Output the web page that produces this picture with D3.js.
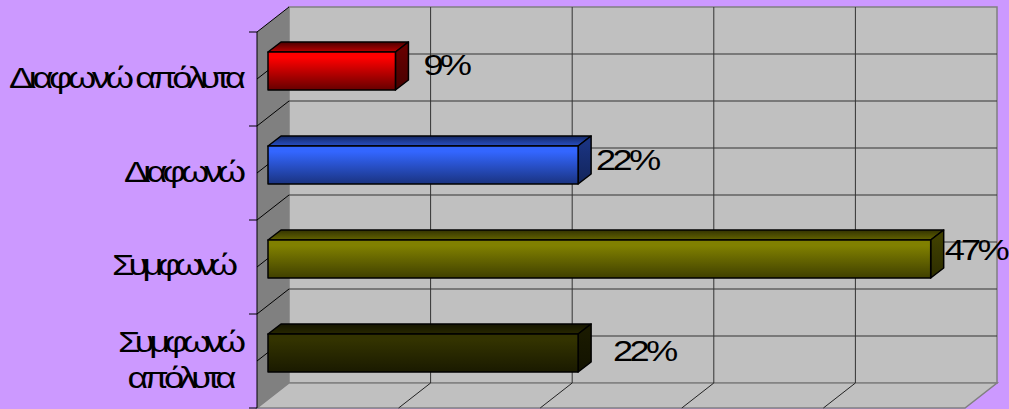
<!DOCTYPE html>
<html>
<head>
<meta charset="utf-8">
<script src="https://cdn.jsdelivr.net/npm/d3@7"></script>
<style>
  html, body { margin: 0; padding: 0; background: #cc99ff; overflow: hidden; }
  text { font-family: "Liberation Sans", Arial, sans-serif; fill: #000; }
</style>
</head>
<body>
<div id="chart"></div>
<script>
// data, top bar first
const categories = ["Διαφωνώ απόλυτα", "Διαφωνώ", "Συμφωνώ", "Συμφωνώ απόλυτα"];
const categoryLines = [["Διαφωνώ απόλυτα"], ["Διαφωνώ"], ["Συμφωνώ"], ["Συμφωνώ", "απόλυτα"]];
const values = [9, 21.9, 46.8, 21.9];
const valueLabels = ["9%", "22%", "47%", "22%"];
const xTicks = [0, 10, 20, 30, 40, 50];

const faceTop = ["#ff0000", "#3366ff", "#808000", "#333300"];
const faceBottom = ["#660000", "#1a3380", "#404000", "#1a1a00"];

const w = 1009, h = 409;
const depthX = 32, depthY = 25;           // how far the back wall sits from the front edge
const barDepthX = 13, barDepthY = 10;     // depth of the bars themselves
const barInsetX = 11, barInsetY = 8;      // bars start this far into the box
const barHeight = 38;
const stretch = 1.25;                     // the original text is drawn wide and tight

const x = d3.scaleLinear().domain([0, 50]).range([257, 965]);
const y = d3.scaleBand().domain(categories).range([32, 408]);

const svg = d3.select("#chart").append("svg")
  .attr("width", w)
  .attr("height", h)
  .style("display", "block");

const defs = svg.append("defs");
function gradient(id, top, bottom) {
  const g = defs.append("linearGradient").attr("id", id)
    .attr("x1", 0).attr("y1", 0).attr("x2", 0).attr("y2", 1);
  g.append("stop").attr("offset", "15%").attr("stop-color", top);
  g.append("stop").attr("offset", "100%").attr("stop-color", bottom);
}
categories.forEach((c, i) => {
  gradient("front" + i, faceTop[i], faceBottom[i]);
  gradient("top" + i, d3.rgb(faceBottom[i]).darker(0.3), d3.interpolateRgb(faceTop[i], faceBottom[i])(0.45));
  gradient("side" + i, d3.rgb(faceBottom[i]), d3.rgb(faceBottom[i]).darker(1));
});

const pts = a => a.map(p => p.join(",")).join(" ");
const x0 = x.range()[0], x1 = x.range()[1];
const y0 = y.range()[0], y1 = y.range()[1];

// walls and floor
svg.append("polygon")
  .attr("points", pts([[x0 + depthX, y0 - depthY], [x1 + depthX, y0 - depthY], [x1 + depthX, y1 - depthY], [x0 + depthX, y1 - depthY]]))
  .attr("fill", "#c0c0c0").attr("stroke", "#808080").attr("stroke-width", 1.5);
svg.append("polygon")
  .attr("points", pts([[x0, y1], [x1, y1], [x1 + depthX, y1 - depthY], [x0 + depthX, y1 - depthY]]))
  .attr("fill", "#c0c0c0").attr("stroke", "#808080").attr("stroke-width", 1.5);
svg.append("polygon")
  .attr("points", pts([[x0, y0], [x0 + depthX, y0 - depthY], [x0 + depthX, y1 - depthY], [x0, y1]]))
  .attr("fill", "#808080");

// gridlines: vertical on the wall, running forward on the floor
xTicks.slice(1, -1).forEach(t => {
  svg.append("line")
    .attr("x1", x(t) + depthX).attr("y1", y0 - depthY)
    .attr("x2", x(t) + depthX).attr("y2", y1 - depthY)
    .attr("stroke", "#333").attr("stroke-width", 1);
  svg.append("line")
    .attr("x1", x(t) + depthX).attr("y1", y1 - depthY)
    .attr("x2", x(t)).attr("y2", y1)
    .attr("stroke", "#222").attr("stroke-width", 1);
});

// horizontal gridlines at every band edge and band centre
const levels = [];
categories.forEach(c => levels.push(y(c), y(c) + y.bandwidth() / 2));
levels.push(y1);
levels.forEach((ly, i) => {
  if (i > 0 && i < levels.length - 1) {
    svg.append("line")
      .attr("x1", x0 + depthX).attr("y1", ly - depthY)
      .attr("x2", x1 + depthX).attr("y2", ly - depthY)
      .attr("stroke", "#333").attr("stroke-width", 1);
  }
  if (i < levels.length - 1) {
    svg.append("line")
      .attr("x1", x0).attr("y1", ly)
      .attr("x2", x0 + depthX).attr("y2", ly - depthY)
      .attr("stroke", "#000").attr("stroke-width", 1);
  }
  if (i % 2 == 0) {
    svg.append("line")
      .attr("x1", x0 - 8).attr("y1", ly)
      .attr("x2", x0).attr("y2", ly)
      .attr("stroke", "#000").attr("stroke-width", 1);
  }
});
svg.append("line")
  .attr("x1", x0).attr("y1", y0).attr("x2", x0).attr("y2", y1)
  .attr("stroke", "#000").attr("stroke-width", 1);

// bars
const bars = svg.selectAll("g.bar")
  .data(categories)
  .enter()
  .append("g")
  .attr("class", "bar");

function barBox(c, i) {
  const left = x0 + barInsetX;
  const right = x(values[i]) + barInsetX;
  const top = y(c) + y.bandwidth() / 2 - barInsetY - barHeight / 2;
  return { left, right, top, bottom: top + barHeight };
}

bars.append("polygon")
  .attr("points", (c, i) => {
    const b = barBox(c, i);
    return pts([[b.left, b.top], [b.right, b.top], [b.right + barDepthX, b.top - barDepthY], [b.left + barDepthX, b.top - barDepthY]]);
  })
  .attr("fill", (c, i) => `url(#top${i})`);
bars.append("polygon")
  .attr("points", (c, i) => {
    const b = barBox(c, i);
    return pts([[b.right, b.top], [b.right + barDepthX, b.top - barDepthY], [b.right + barDepthX, b.bottom - barDepthY], [b.right, b.bottom]]);
  })
  .attr("fill", (c, i) => `url(#side${i})`);
bars.append("polygon")
  .attr("points", (c, i) => {
    const b = barBox(c, i);
    return pts([[b.left, b.top], [b.right, b.top], [b.right, b.bottom], [b.left, b.bottom]]);
  })
  .attr("fill", (c, i) => `url(#front${i})`);
bars.selectAll("polygon")
  .attr("stroke", "#000")
  .attr("stroke-width", 1.5)
  .attr("stroke-linejoin", "round");

// value labels, nudged by hand like the original
const labelNudge = [[28, 23], [18, 24], [14, 20], [35, 27]];
bars.append("text")
  .attr("transform", (c, i) => {
    const b = barBox(c, i);
    return `translate(${b.right + labelNudge[i][0]},${b.top + labelNudge[i][1]}) scale(${stretch},1)`;
  })
  .attr("font-size", 29)
  .attr("letter-spacing", -3)
  .text((c, i) => valueLabels[i]);

// category labels, each line fitted to the width it has in the original
const catAnchor = [246, 246, 238, 182];
const catBase = [9, 9, 8, -9];
const catFit = [[237], [122], [126], [128, 109]];
const lineStep = 36;
svg.selectAll("text.cat")
  .data(categories)
  .enter()
  .append("text")
  .attr("class", "cat")
  .attr("transform", (c, i) => `translate(${catAnchor[i]},${y(c) + y.bandwidth() / 2 + catBase[i]}) scale(${stretch},1)`)
  .attr("font-size", 29)
  .attr("text-anchor", (c, i) => categoryLines[i].length > 1 ? "middle" : "end")
  .each(function(c, i) {
    d3.select(this).selectAll("tspan")
      .data(categoryLines[i])
      .enter()
      .append("tspan")
      .attr("x", 0)
      .attr("y", (l, j) => j * lineStep)
      .attr("textLength", (l, j) => catFit[i][j] / stretch)
      .attr("lengthAdjust", "spacing")
      .text(l => l);
  });
</script>
</body>
</html>
